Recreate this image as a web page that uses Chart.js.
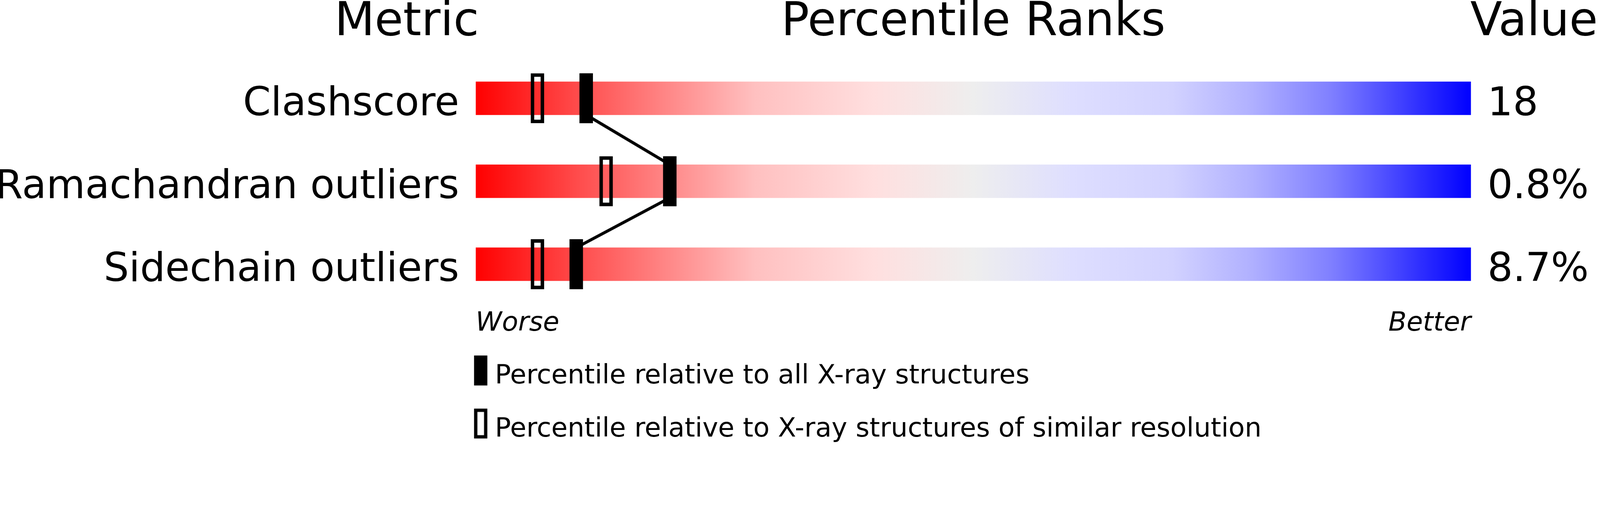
<!DOCTYPE html>
<html>
<head>
<meta charset="utf-8">
<script src="https://cdn.jsdelivr.net/npm/chart.js@4.4.1/dist/chart.umd.min.js"></script>
<style>
  html, body { margin: 0; padding: 0; background: #fff; overflow: hidden; }
  #wrap { position: absolute; left: 0; top: 0; width: 4823px; height: 1333px; overflow: hidden; transform-origin: 0 0; font-family: 'DejaVu Sans', sans-serif; color: #000; }
  #wrap canvas { position: absolute; left: 0; top: 0; }
  .txt { position: absolute; white-space: nowrap; line-height: 1; }
  .title { font-size: 140px; top: -12px; }
  .small { font-size: 80px; }
  .key { position: absolute; left: 1429px; width: 40px; height: 90px; box-sizing: border-box; border: 10px solid #000; }
</style>
</head>
<body>
<div id="wrap">
  <canvas id="chart" width="4823" height="1333"></canvas>
  <div class="txt title" style="left:1226px; transform:translateX(-50%);">Metric</div>
  <div class="txt title" style="left:2934px; transform:translateX(-50%);">Percentile Ranks</div>
  <div class="txt title" style="left:4432px;">Value</div>
  <div class="txt small" style="left:1434px; top:929px; font-style:italic;">Worse</div>
  <div class="txt small" style="right:389px; top:929px; font-style:italic;">Better</div>
  <div class="key" style="top:1071px; background:#000;"></div>
  <div class="txt small" style="left:1492px; top:1088px;">Percentile relative to all X-ray structures</div>
  <div class="key" style="top:1231px; background:transparent;"></div>
  <div class="txt small" style="left:1492px; top:1248px;">Percentile relative to X-ray structures of similar resolution</div>
</div>
<script>
// data
const metrics = ['Clashscore', 'Ramachandran outliers', 'Sidechain outliers'];
const values = ['18', '0.8%', '8.7%'];
const pctAll = [11.1, 19.5, 10.1];      // filled markers
const pctSimilar = [6.2, 13.1, 6.2];    // hollow markers

// layout (design pixels, page is scaled to fit the window)
const W = 4823, H = 1333;
const area = { left: 1434, right: 4434, top: 171, bottom: 921 };
const trackH = 100, markH = 150, markW = 40;

const fit = Math.min(window.innerWidth / W, window.innerHeight / H) || 1;
const wrap = document.getElementById('wrap');
wrap.style.transform = 'scale(' + fit + ')';

const halfMark = (markW / 2) / (area.right - area.left) * 100;
const rowPitch = (area.bottom - area.top) / metrics.length;
const edge = (trackH / 2) / rowPitch;

const rangeOf = p => [p - halfMark, p + halfMark];

// connector runs from bottom of one track to top of the next, at the filled marker
const connector = [];
pctAll.forEach((p, i) => {
  if (i > 0) connector.push({ x: p, y: i - edge });
  if (i < pctAll.length - 1) connector.push({ x: p, y: i + edge });
});

function trackGradient(ctx) {
  const a = ctx.chart.chartArea;
  if (!a) return '#eee';
  const g = ctx.chart.ctx.createLinearGradient(a.left, 0, a.right, 0);
  g.addColorStop(0.00, '#ff0000');
  g.addColorStop(0.10, '#ff4a4a');
  g.addColorStop(0.20, '#ff8c8c');
  g.addColorStop(0.28, '#ffc0c0');
  g.addColorStop(0.40, '#ffdfdf');
  g.addColorStop(0.50, '#eeeeee');
  g.addColorStop(0.60, '#dedeff');
  g.addColorStop(0.70, '#d2d2ff');
  g.addColorStop(0.78, '#b0b0ff');
  g.addColorStop(0.86, '#7f7fff');
  g.addColorStop(0.93, '#4040ff');
  g.addColorStop(1.00, '#0000ff');
  return g;
}

Chart.defaults.font.family = "'DejaVu Sans', sans-serif";
Chart.defaults.color = '#000';

const tickStyle = {
  color: '#000',
  font: { size: 120 },
  padding: 50,
  labelOffset: 20,
  autoSkip: false
};

new Chart(document.getElementById('chart'), {
  type: 'bar',
  data: {
    labels: metrics,
    datasets: [
      {
        label: 'all',
        data: pctAll.map(rangeOf),
        backgroundColor: '#000',
        borderWidth: 0,
        barThickness: markH,
        grouped: false,
        order: 0
      },
      {
        label: 'similar',
        data: pctSimilar.map(rangeOf),
        backgroundColor: 'rgba(0,0,0,0)',
        borderColor: '#000',
        borderWidth: 10,
        borderSkipped: false,
        barThickness: markH,
        grouped: false,
        order: 1
      },
      {
        type: 'line',
        label: 'link',
        data: connector,
        yAxisID: 'yl',
        borderColor: '#000',
        borderWidth: 9,
        pointRadius: 0,
        fill: false,
        tension: 0,
        order: 2
      },
      {
        label: 'track',
        data: metrics.map(() => [0, 100]),
        backgroundColor: trackGradient,
        borderWidth: 0,
        barThickness: trackH,
        grouped: false,
        order: 3
      }
    ]
  },
  options: {
    indexAxis: 'y',
    responsive: false,
    animation: false,
    devicePixelRatio: fit * (window.devicePixelRatio || 1),
    events: [],
    layout: { padding: { top: area.top, bottom: H - area.bottom, left: 0, right: 0 } },
    plugins: { legend: { display: false }, tooltip: { enabled: false } },
    scales: {
      x: { type: 'linear', min: 0, max: 100, display: false },
      y: {
        type: 'category',
        position: 'left',
        offset: true,
        grid: { display: false, drawTicks: false },
        border: { display: false },
        ticks: tickStyle,
        afterFit: s => { s.width = area.left; }
      },
      yv: {
        type: 'category',
        labels: values,
        position: 'right',
        offset: true,
        grid: { display: false, drawTicks: false },
        border: { display: false },
        ticks: tickStyle,
        afterFit: s => { s.width = W - area.right; }
      },
      yl: {
        type: 'linear',
        min: -0.5,
        max: metrics.length - 0.5,
        reverse: true,
        offset: false,
        display: false
      }
    }
  }
});
</script>
</body>
</html>
